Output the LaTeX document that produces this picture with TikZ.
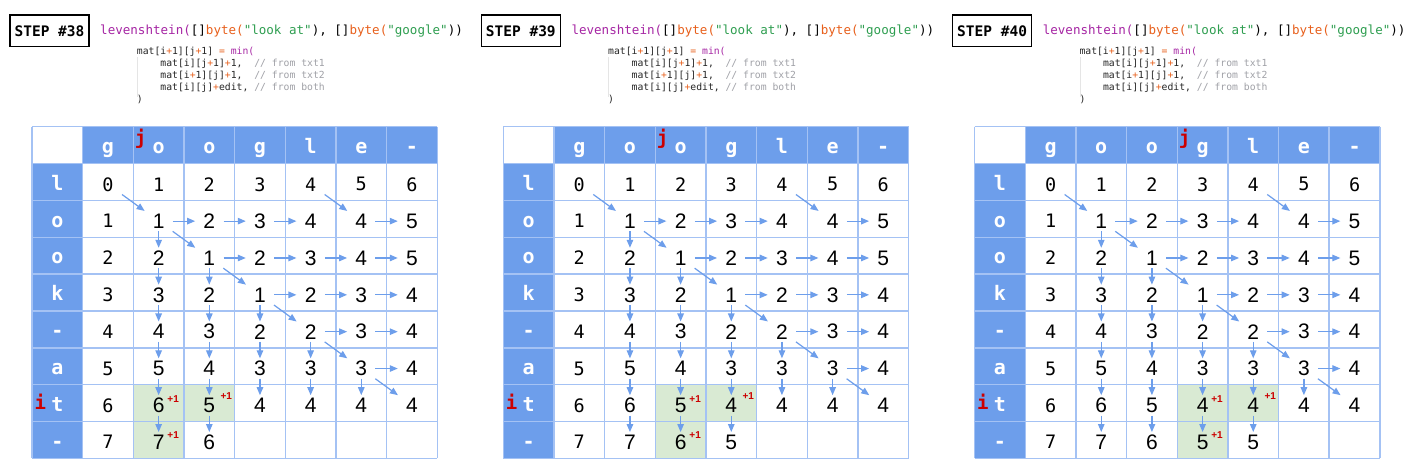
\documentclass[tikz,border=0pt]{standalone}
\usepackage{fontspec}
\setmainfont{Liberation Sans}
\setmonofont{DejaVu Sans Mono}
\usetikzlibrary{positioning, arrows.meta, calc}

\definecolor{hdrblue}{HTML}{6D9EEB}
\definecolor{gridblue}{HTML}{A4C2F4}
\definecolor{arrowblue}{HTML}{6D9EEB}
\definecolor{cellgreen}{HTML}{D9EAD3}
\definecolor{ptrred}{HTML}{CC0000}
\definecolor{kwpurple}{HTML}{A626A4}
\definecolor{typeorange}{HTML}{E8601C}
\definecolor{strgreen}{HTML}{2E9E50}
\definecolor{cmtgray}{HTML}{A0A1A7}

\newcommand{\op}[1]{\textcolor{typeorange}{#1}}
\newcommand{\cmt}[1]{\textcolor{cmtgray}{#1}}

\begin{document}
\frenchspacing
\begin{tikzpicture}[
    x=1pt, y=-1pt,
    >={Triangle[length=8pt, width=6.5pt]},
    stepbox/.style={rectangle, draw=black, line width=1.3pt, minimum width=79pt, minimum height=31.7pt, inner sep=0pt, font=\ttfamily\bfseries\fontsize{14.5}{16}\selectfont},
    titlecode/.style={anchor=base west, inner sep=0pt, font=\ttfamily\fontsize{12.55}{14}\selectfont},
    codeline/.style={anchor=base west, inner sep=0pt, text=black!85, font=\ttfamily\fontsize{9.75}{12}\selectfont},
    guide/.style={draw=black!10, line width=0.6pt},
    hdr/.style={anchor=base, inner sep=0pt, text=white, font=\ttfamily\bfseries\fontsize{20}{22}\selectfont},
    ptr/.style={anchor=base, inner sep=0pt, text=ptrred, font=\ttfamily\bfseries\fontsize{19}{21}\selectfont},
    monoval/.style={rectangle, minimum width=28pt, minimum height=20pt, inner sep=0pt, font=\ttfamily\fontsize{18.5}{20}\selectfont},
    cellval/.style={rectangle, minimum width=28pt, minimum height=20pt, inner sep=0pt, font=\fontsize{21}{23}\selectfont},
    bump/.style={inner sep=0pt, text=ptrred, font=\bfseries\fontsize{10}{11}\selectfont},
    trace/.style={->, draw=arrowblue, line width=1.2pt},
    gridline/.style={draw=gridblue, line width=1.5pt}
]
\useasboundingbox (0,0) rectangle (1412,474);
\fill[white] (0,0) rectangle (1412,474);

\foreach \p/\ox/\stepno/\jc in {A/0/38/1, B/471.3/39/2, C/942.6/40/3} {
    \pgfmathsetmacro\gx{32+\ox}
    \pgfmathtruncatemacro\jn{\jc+1}

    % 1. Step label and code
    \node[stepbox] (\p-step) at (49.5+\ox, 30.85) {STEP \#\stepno};
    \node[titlecode] (\p-title) at (100+\ox, 34.3) {\textcolor{kwpurple}{levenshtein(}[]\textcolor{typeorange}{byte(}\textcolor{strgreen}{"look~at"}),~[]\textcolor{typeorange}{byte(}\textcolor{strgreen}{"google"}))};
    \node[codeline] (\p-code1) at (136.7+\ox, 54.3) {mat[i\op{+}1][j\op{+}1]~\op{=}~\textcolor{kwpurple}{min(}};
    \node[codeline] (\p-code2) at (160.2+\ox, 66.4) {mat[i][j\op{+}1]\op{+}1,~~\cmt{//~from~txt1}};
    \node[codeline] (\p-code3) at (160.2+\ox, 78.5) {mat[i\op{+}1][j]\op{+}1,~~\cmt{//~from~txt2}};
    \node[codeline] (\p-code4) at (160.2+\ox, 90.6) {mat[i][j]\op{+}edit,~\cmt{//~from~both}};
    \node[codeline] (\p-code5) at (136.7+\ox, 102.7) {)};
    \draw[guide] (137.2+\ox, 57) -- (137.2+\ox, 97);

    % 2. Fills
    \fill[hdrblue] (\gx+50.66, 126.7) rectangle (\gx+405.28, 163.55);
    \fill[hdrblue] (\gx, 163.55) rectangle (\gx+50.66, 458.35);
    \foreach \r/\c in {6/\jc, 6/\jn, 7/\jc}
        \fill[cellgreen] (\gx+\c*50.66+50.66, 126.7+\r*36.85+36.85) rectangle +(50.66, 36.85);

    % 3. Grid
    \foreach \k in {0,...,8}
        \draw[gridline] (\gx+\k*50.66, 126.7) -- +(0, 331.65);
    \foreach \k in {0,...,9}
        \draw[gridline] (\gx, 126.7+\k*36.85) -- +(405.28, 0);

    % 4. Headers
    \foreach \t [count=\c from 0] in {g,o,o,g,l,e,-}
        \node[hdr] (\p-h-\c) at (\gx+\c*50.66+75.99, 153.3) {\t};
    \foreach \t [count=\r from 0] in {l,o,o,k,-,a,t,-}
        \node[hdr] (\p-v-\r) at (\gx+25.33, 190.2+\r*36.85) {\t};
    \node[ptr] (\p-j) at (\gx+\jc*50.66+75.99-18, 144) {j};
    \node[ptr] (\p-i) at (\gx+25.33-17, 409) {i};

    % 5. Matrix values
    \foreach \r/\vals in {0/{0,1,2,3,4,5,6}, 1/{1,1,2,3,4,4,5}, 2/{2,2,1,2,3,4,5}, 3/{3,3,2,1,2,3,4},
                          4/{4,4,3,2,2,3,4}, 5/{5,5,4,3,3,3,4}, 6/{6,6,5,4,4,4,4}, 7/{7,7,6,5,5,5,5}} {
        \foreach \v [count=\c from 0] in \vals {
            \pgfmathsetmacro\cx{\gx+\c*50.66+75.99}
            \pgfmathsetmacro\cy{126.7+\r*36.85+55.28+2.3}
            \pgfmathtruncatemacro\isMono{(\r==0)||(\c==0)}
            \pgfmathtruncatemacro\showcell{(\r<7)||(\c<=\jn)}
            \ifnum\showcell=1
                \ifnum\isMono=1
                    \node[monoval] (\p-\r-\c) at (\cx,\cy) {\v};
                \else
                    \node[cellval] (\p-\r-\c) at (\cx,\cy) {\v};
                \fi
            \fi
        }
    }

    % 6. Paths
    \foreach \r/\c in {0/0, 0/4, 1/1, 2/2, 3/3, 4/4, 5/5} {
        \pgfmathtruncatemacro\rn{\r+1}
        \pgfmathtruncatemacro\cn{\c+1}
        \draw[trace] (\p-\r-\c) -- (\p-\rn-\cn);
    }
    \foreach \r/\c in {1/1, 1/2, 1/3, 1/5, 2/2, 2/3, 2/4, 2/5, 3/3, 3/4, 3/5, 4/4, 4/5, 5/5} {
        \pgfmathtruncatemacro\cn{\c+1}
        \draw[trace] (\p-\r-\c) -- (\p-\r-\cn);
    }
    \foreach \r/\c in {1/1, 2/1, 3/1, 4/1, 5/1, 2/2, 3/2, 4/2, 5/2, 3/3, 4/3, 5/3, 4/4, 5/4, 5/5} {
        \pgfmathtruncatemacro\rn{\r+1}
        \draw[trace] (\p-\r-\c) -- (\p-\rn-\c);
    }
    \foreach \c in {1,...,\jn}
        \draw[trace] (\p-6-\c) -- (\p-7-\c);

    % 7. Edit costs
    \node[bump] (\p-b1) at ($(\p-6-\jc)+(14.5,-6.8)$) {+1};
    \node[bump] (\p-b2) at ($(\p-6-\jn)+(17,-9.3)$) {+1};
    \node[bump] (\p-b3) at ($(\p-7-\jc)+(14.5,-6.8)$) {+1};
}

\end{tikzpicture}
\end{document}
